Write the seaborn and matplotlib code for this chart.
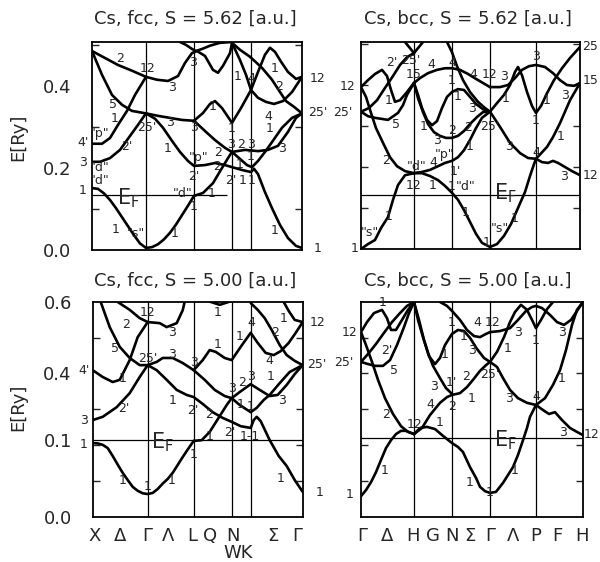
import matplotlib
matplotlib.use("Agg")
import matplotlib.pyplot as plt
import numpy as np
import pandas as pd
import seaborn as sns
from matplotlib.ticker import FixedLocator

# ---------------- data (k = distance along path, E in Ry) ----------------
# Cs fcc, S = 5.62 a.u.  (X=0, Gamma=54, L=102, W=140, K=159, Gamma=210)
FCC1_SYM = [54, 102, 140, 159]
FCC1_EF = 0.134
TL_S = ([0, 6, 12, 18, 24, 30, 36, 42, 48, 54, 60, 66, 72, 78, 84, 90, 96, 102],
        [.151, .149, .138, .122, .102, .080, .058, .036, .016, .005, .007, .014, .026, .042, .062, .085, .108, .132])
TL_A = ([102, 111, 121, 130, 136, 140, 153, 166, 176, 186, 196, 204, 210],
        [.132, .139, .163, .200, .224, .239, .244, .241, .244, .254, .288, .322, .333])
TL_C = ([140, 148, 155, 160, 166, 173, 180, 190, 200, 210],
        [.239, .222, .207, .202, .217, .239, .263, .298, .322, .333])
TL_B = ([54, 63, 71, 80, 88, 96, 102, 113, 123, 133, 140, 150, 159, 162, 166, 173, 180, 188, 196, 204, 210],
        [.333, .320, .298, .266, .239, .217, .205, .207, .212, .207, .202, .195, .190, .198, .185, .141, .102, .061, .029, .010, .005])
TL_D = ([54, 66, 78, 90, 102, 113, 123, 133, 140],
        [.333, .327, .322, .317, .315, .290, .268, .249, .239])
TL_E = ([102, 111, 118, 123, 130, 140, 149, 159, 166, 173, 178, 183, 189, 196, 204, 210],
        [.315, .334, .356, .363, .346, .310, .346, .390, .434, .476, .493, .483, .459, .434, .417, .422])
TL_Q = ([54, 65, 76, 86, 93, 100, 105, 113, 121, 126, 131, 138, 140, 148, 154, 159, 166, 174, 182, 191, 200, 210],
        [.422, .415, .412, .424, .456, .480, .485, .473, .439, .432, .449, .480, .505, .463, .427, .390, .371, .361, .356, .363, .385, .422])
TL_SS = ([140, 148, 158, 170, 180, 188, 194, 202, 210],
         [.505, .488, .471, .444, .415, .385, .363, .349, .333])
TL_T = ([88, 94, 100, 104, 110, 118, 128, 140],
        [.507, .500, .490, .485, .490, .498, .505, .507])
TL_X3 = ([0, 8, 18, 28, 38, 46, 54], [.215, .215, .224, .244, .278, .305, .333])
TL_X4 = ([0, 10, 18, 26, 35, 43, 54], [.259, .259, .273, .305, .339, .378, .422])
TL_X5 = ([0, 10, 20, 30, 40, 54], [.485, .427, .378, .354, .339, .333])
TL_X2 = ([0, 13, 26, 40, 54], [.485, .468, .451, .437, .422])

# Cs bcc, S = 5.62 a.u. (Gamma=0, H=53, N=91, Gamma=129, P=175, H=219)
BCC1_SYM = [53, 91, 129, 175]
BCC1_EF = 0.132
TR_S = ([0, 7, 14, 20, 27, 32, 37, 44, 53], [.000, .012, .022, .051, .078, .120, .156, .180, .185])
TR_2 = ([0, 5, 10, 15, 22, 29, 36, 44, 53], [.395, .371, .332, .295, .259, .224, .202, .190, .185])
TR_BUMP = ([0, 7, 14, 21, 26, 30, 34, 39, 45, 53], [.395, .412, .427, .437, .422, .388, .359, .363, .380, .405])
TR_2P = ([0, 8, 16, 24, 32, 39, 46, 53], [.335, .344, .363, .393, .422, .449, .468, .478])
TR_5 = ([0, 7, 14, 27, 37, 42, 46, 53], [.335, .324, .320, .315, .332, .351, .376, .405])
TR_LOW = ([53, 61, 69, 77, 84, 91, 97, 103, 109, 115, 121, 129, 136, 143, 150, 157, 164, 169, 173, 175],
          [.185, .185, .178, .168, .154, .137, .120, .095, .066, .037, .015, .005, .012, .032, .061, .100, .139, .178, .207, .220])
TR_D4 = ([53, 61, 69, 77, 84, 91, 97, 103, 109, 115, 121, 129],
         [.185, .188, .193, .202, .210, .215, .224, .241, .266, .295, .320, .335])
TR_9 = ([53, 57, 62, 67, 73, 79, 85, 91, 97, 103, 109, 116, 122, 129],
        [.405, .368, .334, .305, .285, .276, .271, .271, .276, .288, .305, .322, .334, .335])
TR_10 = ([53, 57, 61, 66, 71, 76, 81, 86, 91, 97, 103, 109, 115, 122, 129],
         [.405, .376, .344, .315, .302, .312, .344, .371, .383, .390, .388, .371, .354, .341, .335])
TR_TOP = ([53, 59, 67, 76, 84, 91, 99, 107, 115, 122, 129],
          [.405, .417, .429, .437, .441, .441, .437, .427, .415, .405, .395])
TR_11 = ([86, 91, 96, 102, 109, 117, 124, 129], [.505, .480, .446, .412, .383, .359, .344, .335])
TR_V = ([44, 49, 53, 57, 62], [.505, .490, .478, .490, .505])
TR_14 = ([129, 136, 143, 149, 154, 157, 161, 166, 171, 175, 180, 186, 193, 201, 209, 219],
         [.335, .356, .376, .400, .432, .444, .424, .383, .349, .332, .349, .380, .412, .441, .466, .493])
TR_15 = ([129, 139, 147, 154, 161, 168, 175, 184, 192, 199, 206, 213, 219],
         [.395, .395, .400, .417, .437, .446, .449, .444, .429, .412, .400, .398, .405])
TR_3 = ([129, 139, 149, 159, 167, 175], [.335, .298, .259, .234, .222, .220])
TR_P1 = ([175, 186, 192, 199, 209, 219], [.220, .249, .273, .307, .363, .405])
TR_P3 = ([175, 181, 187, 192, 197, 204, 211, 219], [.220, .212, .210, .215, .210, .200, .190, .180])

# Cs fcc, S = 5.00 a.u.
FCC2_SYM = [55, 101, 139, 158]
FCC2_EF = 0.215
BL_S = ([0, 5, 10, 15, 20, 25, 30, 35, 40, 45, 50, 55, 60, 65, 70, 75, 80, 85, 90, 95, 101],
        [.206, .205, .201, .192, .170, .146, .123, .103, .084, .073, .066, .064, .067, .078, .093, .106, .123, .145, .167, .188, .212])
BL_A = ([101, 109, 117, 127, 134, 139, 147, 158, 167, 177, 185, 194, 202, 210],
        [.212, .214, .237, .281, .312, .331, .348, .370, .354, .337, .340, .368, .398, .423])
BL_C = ([139, 147, 158, 164, 171, 177, 187, 197, 210],
        [.331, .312, .292, .304, .326, .340, .373, .404, .423])
BL_B = ([55, 64, 74, 84, 94, 101, 110, 120, 130, 139, 148, 158, 161, 164, 168, 177, 186, 194, 202, 210],
        [.423, .409, .382, .354, .340, .334, .315, .292, .276, .265, .253, .248, .270, .279, .267, .214, .170, .142, .103, .070])
BL_D = ([55, 64, 70, 80, 90, 101, 112, 122, 132, 139],
        [.423, .432, .443, .443, .429, .409, .382, .354, .337, .331])
BL_E = ([101, 110, 117, 123, 132, 139, 148, 158, 165, 173, 181, 188, 196, 203, 210],
        [.409, .437, .465, .460, .443, .437, .474, .513, .485, .457, .451, .462, .485, .513, .543])
BL_12 = ([55, 67, 74, 84, 90, 92], [.543, .540, .529, .540, .576, .600])
BL_Q = ([158, 165, 172, 179, 187, 194, 202, 210], [.596, .577, .554, .521, .479, .451, .435, .423])
BL_R = ([191, 196, 202, 210], [.599, .574, .549, .543])
BL_T = ([117, 127, 137], [.600, .591, .600])
BL_X3 = ([0, 10, 24, 37, 47, 55], [.270, .279, .306, .345, .390, .423])
BL_X4 = ([0, 10, 20, 27, 37, 45, 55], [.409, .390, .376, .382, .437, .501, .543])
BL_5 = ([8, 17, 27, 37, 47, 55], [.599, .529, .474, .443, .423, .423])
BL_2 = ([25, 37, 47, 55], [.599, .577, .554, .543])

# Cs bcc, S = 5.00 a.u.
BCC2_SYM = [53, 91, 129, 175]
BCC2_EF = 0.219
BR_S = ([0, 5, 10, 15, 20, 25, 30, 35, 40, 45, 53], [.058, .075, .097, .125, .159, .192, .214, .231, .240, .240, .231])
BR_2 = ([0, 5, 11, 17, 24, 32, 40, 47, 53], [.515, .479, .432, .382, .331, .287, .253, .237, .231])
BR_BUMP = ([0, 6, 13, 21, 26, 30, 35, 41, 47, 53], [.515, .543, .568, .577, .554, .521, .521, .549, .577, .599])
BR_2P = ([0, 7, 15, 23, 31, 39, 46, 53], [.432, .454, .482, .513, .543, .568, .588, .599])
BR_5 = ([0, 7, 14, 22, 29, 36, 43, 48, 53], [.432, .426, .421, .421, .437, .479, .529, .568, .599])
BR_LOW = ([53, 59, 66, 74, 82, 91, 97, 102, 109, 115, 119, 124, 129, 135, 142, 147, 152, 157, 162, 166, 169, 175],
          [.231, .248, .251, .245, .226, .206, .195, .181, .139, .109, .084, .072, .067, .070, .095, .117, .139, .173, .214, .248, .279, .312])
BR_4 = ([53, 61, 69, 79, 86, 91, 99, 106, 112, 119, 125, 129],
        [.231, .248, .284, .318, .334, .340, .345, .362, .382, .407, .423, .432])
BR_3 = ([53, 57, 62, 67, 72, 79, 85, 91], [.599, .549, .501, .457, .421, .387, .359, .343])
BR_E = ([53, 58, 63, 68, 74, 79, 84, 91, 97, 103, 109, 116, 123, 129],
        [.599, .549, .493, .448, .426, .443, .479, .510, .521, .518, .499, .468, .443, .432])
BR_N1 = ([79, 86, 91, 99, 106, 113, 119, 125, 129], [.599, .588, .574, .549, .521, .504, .501, .510, .515])
BR_Q = ([129, 139, 149, 157, 165, 171, 175, 181, 189, 196, 203, 210, 216, 222],
        [.515, .518, .526, .549, .574, .585, .588, .582, .563, .543, .535, .549, .574, .599])
BR_P = ([129, 136, 143, 149, 154, 160, 166, 171, 175, 180, 186, 192],
        [.432, .460, .501, .543, .571, .591, .577, .549, .526, .549, .579, .599])
BR_3B = ([129, 136, 142, 149, 157, 166, 175], [.432, .418, .387, .354, .331, .318, .312])
BR_P1 = ([175, 184, 192, 199, 205, 211, 216, 222], [.312, .331, .368, .409, .465, .535, .577, .599])
BR_P3 = ([175, 182, 188, 194, 201, 209, 216, 222], [.312, .298, .287, .292, .270, .248, .237, .228])

# ---------------- annotation text (figure pixel positions) ----------------
TL_LABELS = [("2", 120, 59), ("12", 148, 68), ("3", 193, 62), ("3", 172, 88), ("5", 113, 104), ("1", 115, 118),
             ('"p"', 100, 133), ("4'", 83, 143), ("25'", 147, 128), ("3", 170, 122), ("3", 194, 128), ("1", 213, 107),
             ("1", 232, 129), ("2'", 127, 147), ("1", 168, 148), ("3", 83, 162), ('"d"', 100, 168), ('"d"', 100, 180),
             ("1", 83, 190), ('"p"', 199, 157), ("2", 218, 152), ("2", 217, 167), ("2'", 194, 176), ('"d"', 183, 193),
             ("1", 212, 193), ("1", 194, 206), ("1", 116, 229), ('"s"', 136, 233), ("1", 175, 233), ("1", 238, 76),
             ("4", 251, 78), ("1", 275, 68), ("2", 279, 87), ("4", 268, 116), ("1", 270, 129), ("3", 282, 149),
             ("3", 231, 145), ("2", 241, 145), ("3", 251, 145), ("1", 240, 165), ("1", 251, 157), ("2'", 231, 181),
             ("1", 243, 181), ("1", 252, 181), ("1", 275, 230), ("12", 318, 78), ("25'", 318, 113), ("1", 318, 248)]
TR_LABELS = [("12", 348, 87), ("25'", 343, 113), ("1", 355, 248), ('"s"', 370, 232), ("1", 389, 217), ("2", 386, 160),
             ("5", 396, 124), ("1", 389, 100), ("2'", 392, 62), ("25'", 411, 60), ("4", 431, 64), ("15", 414, 74),
             ("4", 452, 62), ("1", 452, 81), ("1", 458, 96), ("4", 473, 75), ("12", 490, 75), ("3", 504, 76),
             ("1", 506, 98), ("3", 536, 57), ("1", 547, 100), ("3", 565, 95), ("1", 424, 126), ("2", 452, 131),
             ("3", 437, 140), ("2", 468, 128), ("3", 472, 108), ("25'", 490, 126), ('"p"', 445, 155), ("1", 470, 147),
             ("1'", 455, 171), ('"d"', 417, 166), ("4", 433, 163), ("12", 414, 186), ("1", 433, 186), ("1", 452, 187),
             ('"d"', 466, 187), ("3", 509, 147), ("1", 536, 121), ("4", 536, 152), ("1", 561, 137), ("3", 564, 176),
             ("1", 466, 213), ("1", 487, 243), ('"s"', 500, 228), ("1", 515, 218), ("25", 590, 47), ("15", 591, 80),
             ("12", 591, 175)]
BL_LABELS = [("2", 126, 324), ("12", 148, 312), ("3", 172, 333), ("5", 115, 349), ("25'", 148, 358), ("3", 172, 355),
             ("3", 194, 362), ("4'", 84, 370), ("1", 123, 378), ("2'", 124, 408), ("3", 84, 421), ("1", 84, 445),
             ("1", 173, 400), ("2'", 193, 410), ("2", 209, 415), ("1", 210, 437), ("1", 194, 454), ("1", 123, 480),
             ("1", 148, 487), ("1", 172, 480), ("1", 218, 313), ("1", 218, 345), ("1", 240, 337), ("4", 251, 322),
             ("2", 275, 332), ("1", 284, 318), ("4", 269, 361), ("1", 271, 377), ("3", 282, 400), ("3", 232, 388),
             ("2", 242, 383), ("3", 251, 377), ("1", 241, 405), ("1", 251, 406), ("2'", 230, 433), ("1-1", 250, 437),
             ("1", 281, 478), ("12", 318, 322), ("25'", 317, 365), ("1", 320, 492)]
BR_LABELS = [("1", 383, 302), ("12", 350, 333), ("25'", 344, 362), ("1", 350, 495), ("2'", 387, 350), ("5", 394, 370),
             ("2", 386, 415), ("12", 415, 424), ("1", 440, 423), ("1", 385, 470), ("4", 430, 405), ("3", 434, 387),
             ("1'", 451, 382), ("2", 466, 376), ("2", 452, 407), ("1", 472, 398), ("25'", 490, 374), ("1", 445, 355),
             ("3", 472, 351), ("1", 464, 336), ("1", 452, 322), ("4", 477, 322), ("12", 493, 322), ("3", 518, 333),
             ("1", 508, 348), ("1", 536, 340), ("3", 562, 333), ("1", 562, 378), ("3", 509, 399), ("4", 536, 397),
             ("3", 563, 432), ("1", 470, 482), ("1", 490, 492), ("1", 515, 470), ("12", 592, 435)]
FCC_PATH = [("X", 95), ("Δ", 120), ("Γ", 147), ("Λ", 168), ("L", 192), ("Q", 210), ("N", 233), ("Σ", 273), ("Γ", 297)]
BCC_PATH = [("Γ", 362), ("Δ", 387), ("H", 413), ("G", 433), ("N", 452), ("Σ", 470), ("Γ", 490), ("Λ", 513),
            ("P", 536), ("F", 557), ("H", 582)]

# ---------------- drawing ----------------
sns.set_style("white")
plt.rcParams['font.family'] = ['DejaVu Sans']
W, H = 600, 562
fig = plt.figure(figsize=(6.0, 5.62), dpi=100)


def fx(x):
    return x / W


def fy(y):
    return 1 - y / H


def panel(rect_px, bands, sym, xmax, ymax, ef, ef_end, ylab_pos=None, ylabs=None):
    x0, y0, x1, y1 = rect_px
    ax = fig.add_axes([fx(x0), fy(y1), (x1 - x0) / W, (y1 - y0) / H])
    rows = []
    for name, (k, e) in bands.items():
        for kk, ee in zip(k, e):
            rows.append((name, kk, ee))
    df = pd.DataFrame(rows, columns=["band", "k", "E"])
    sns.lineplot(data=df, x="k", y="E", units="band", estimator=None, sort=False,
                 color="black", lw=1.9, ax=ax, legend=False, solid_joinstyle="round")
    for s in sym:
        ax.axvline(s, color="black", lw=0.9)
    ax.hlines(ef, 0, ef_end, color="black", lw=0.9)
    ax.set_xlim(0, xmax)
    ax.set_ylim(0, ymax)
    ax.set_xlabel("")
    ax.set_ylabel("")
    ax.set_xticks([])
    if ylab_pos is not None:
        ax.yaxis.set_major_locator(FixedLocator(ylab_pos))
        ax.set_yticklabels(ylabs)
    else:
        ax.set_yticks([])
    ax.yaxis.set_minor_locator(FixedLocator([v for v in np.arange(0.1, ymax, 0.1)]))
    ax.tick_params(axis="y", which="major", length=0, pad=15, labelsize=13)
    ax.tick_params(axis="y", which="minor", direction="in", length=5, width=1.0, left=True, right=True)
    for sp in ax.spines.values():
        sp.set_linewidth(1.3)
        sp.set_color("black")
    return ax


panel((92, 42, 302, 250),
      dict(s=TL_S, a=TL_A, c=TL_C, b=TL_B, d=TL_D, e=TL_E, q=TL_Q, ss=TL_SS, t=TL_T,
           x3=TL_X3, x4=TL_X4, x5=TL_X5, x2=TL_X2),
      FCC1_SYM, 210, 0.507, FCC1_EF, 135, [0.0, 0.2, 0.4], ["0.0", "0.2", "0.4"])
panel((361, 42, 580, 249),
      dict(s=TR_S, t2=TR_2, bump=TR_BUMP, t2p=TR_2P, t5=TR_5, low=TR_LOW, d4=TR_D4, t9=TR_9, t10=TR_10,
           top=TR_TOP, t11=TR_11, v=TR_V, t14=TR_14, t15=TR_15, t3=TR_3, p1=TR_P1, p3=TR_P3),
      BCC1_SYM, 219, 0.505, BCC1_EF, 219)
panel((92.7, 301.6, 302.7, 517),
      dict(s=BL_S, a=BL_A, c=BL_C, b=BL_B, d=BL_D, e=BL_E, g12=BL_12, q=BL_Q, r=BL_R, t=BL_T,
           x3=BL_X3, x4=BL_X4, f5=BL_5, f2=BL_2),
      FCC2_SYM, 210, 0.6, FCC2_EF, 210, [0.0, FCC2_EF, 0.4, 0.6], ["0.0", "0.1", "0.4", "0.6"])
panel((361, 301.6, 582.7, 517),
      dict(s=BR_S, b2=BR_2, bump=BR_BUMP, b2p=BR_2P, b5=BR_5, low=BR_LOW, b4=BR_4, b3=BR_3, e=BR_E,
           n1=BR_N1, q=BR_Q, p=BR_P, b3b=BR_3B, p1=BR_P1, p3=BR_P3),
      BCC2_SYM, 221.7, 0.6, BCC2_EF, 221.7)

for labels in (TL_LABELS, TR_LABELS, BL_LABELS, BR_LABELS):
    for s, x, y in labels:
        fig.text(fx(x), fy(y), s, ha="center", va="center", fontsize=9)

for s, x, y in [(r"$\mathregular{E_F}$", 128, 198), (r"$\mathregular{E_F}$", 505, 193),
                (r"$\mathregular{E_F}$", 162, 442), (r"$\mathregular{E_F}$", 505, 440)]:
    fig.text(fx(x), fy(y), s, ha="center", va="center", fontsize=15)

for s, x, y in [("Cs, fcc, S = 5.62 [a.u.]", 195, 19), ("Cs, bcc, S = 5.62 [a.u.]", 468, 19),
                ("Cs, fcc, S = 5.00 [a.u.]", 195, 281), ("Cs, bcc, S = 5.00 [a.u.]", 468, 281)]:
    fig.text(fx(x), fy(y), s, ha="center", va="center", fontsize=13)

for y in (137, 407):
    fig.text(fx(18), fy(y), "E[Ry]", ha="center", va="center", rotation=90, fontsize=13)

for s, x in FCC_PATH:
    fig.text(fx(x), fy(536), s, ha="center", va="center", fontsize=13)
fig.text(fx(238), fy(553), "WK", ha="center", va="center", fontsize=13)
for s, x in BCC_PATH:
    fig.text(fx(x), fy(536), s, ha="center", va="center", fontsize=13)

fig.savefig("out.png", dpi=100)
